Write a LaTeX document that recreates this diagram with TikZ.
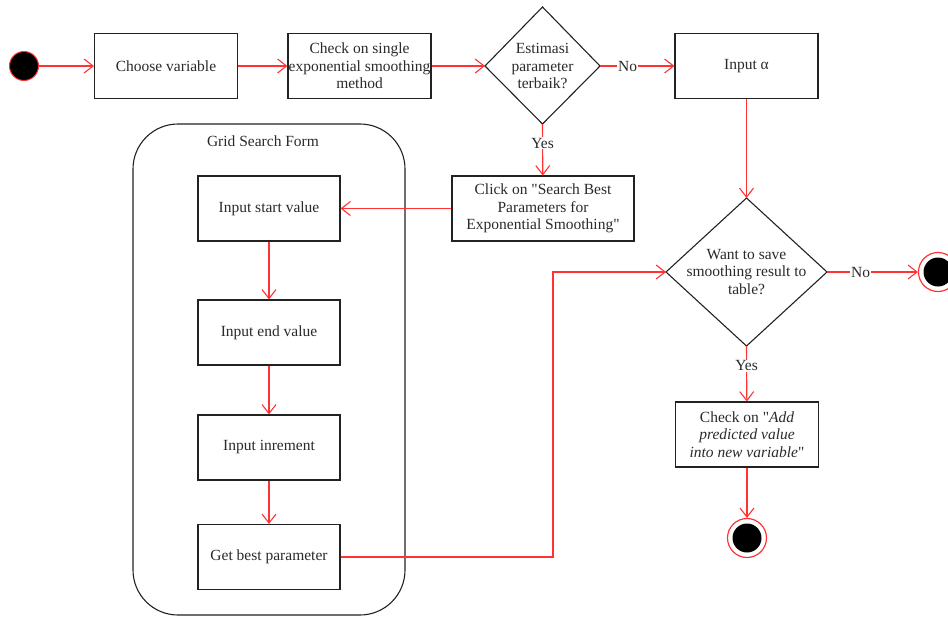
\documentclass[tikz,border=0pt]{standalone}
\usepackage{fontspec}
\setmainfont{Liberation Serif}
\newfontfamily\lser{Liberation Serif}
\usetikzlibrary{arrows.meta,shapes.geometric}
\definecolor{lred}{HTML}{FF3333}
\definecolor{txt}{HTML}{2A2A2A}
\definecolor{bd}{HTML}{222222}
\begin{document}
\begin{tikzpicture}[x=1pt,y=-1pt,
  every node/.style={font=\lser\fontsize{15.5}{18.5}\selectfont, text=txt},
  actbox/.style={draw=bd, line width=1.1pt, minimum width=143pt, minimum height=65pt, inner sep=0pt, align=center},
  flow/.style={draw=lred, line width=1.1pt, -{Straight Barb[length=9pt,width=14pt,line width=1.1pt]}},
  lab/.style={fill=white, inner sep=1pt},
  startc/.style={circle, fill=black, draw=lred, line width=1pt, minimum size=29pt, inner sep=0pt},
  endc/.style={circle, draw=lred, line width=1.2pt, minimum size=39pt, inner sep=0pt, path picture={\fill[black] (path picture bounding box.center) circle (14.5pt);}}
]
\useasboundingbox (0,0) rectangle (948,616);
% container
\draw[draw=bd, line width=1.1pt, rounded corners=45pt] (133,124) rectangle (405,615);
\node (gsf) at (263,141) {Grid Search Form};

\node[startc] (start) at (24,66) {};
\node[actbox] (choose) at (166,66) {Choose variable};
\node[actbox] (check) at (359.5,66) {Check on single\\[-1pt]exponential smoothing\\[-1pt]method};
\coordinate (d1l) at (485,66);
\coordinate (d1r) at (600,66);
\coordinate (d1t) at (542.5,7);
\coordinate (d1b) at (542.5,124);
\draw[draw=bd, line width=1.1pt] (d1l) -- (d1t) -- (d1r) -- (d1b) -- cycle;
\node[align=center] (d1) at (542.5,66) {Estimasi\\[-1pt]parameter\\[-1pt]terbaik?};
\node[actbox] (alpha) at (746.5,66) {Input α};

\coordinate (d2l) at (666,272);
\coordinate (d2r) at (827,272);
\coordinate (d2t) at (746.5,198);
\coordinate (d2b) at (746.5,346);
\draw[draw=bd, line width=1.1pt] (d2l) -- (d2t) -- (d2r) -- (d2b) -- cycle;
\node[align=center] (d2) at (746.5,272) {Want to save\\[-1pt]smoothing result to\\[-1pt]table?};

\node[endc] (endr) at (938,272) {};
\node[actbox] (addp) at (747,434.5) {Check on \textquotedbl\textit{Add}\\[-1pt]\textit{predicted value}\\[-1pt]\textit{into new variable}\textquotedbl};
\node[endc] (endb) at (747,538) {};

\node[actbox, minimum width=182pt] (click) at (543,208.5) {Click on \textquotedbl Search Best\\[-1pt]Parameters for\\[-1pt]Exponential Smoothing\textquotedbl};

\node[actbox, minimum width=142pt] (s1) at (269,208.5) {Input start value};
\node[actbox, minimum width=142pt] (s2) at (269,332.5) {Input end value};
\node[actbox, minimum width=142pt] (s3) at (269,447.5) {Input inrement};
\node[actbox, minimum width=142pt] (s4) at (269,557) {Get best parameter};

% connectors
\draw[flow] (start) -- (choose);
\draw[flow] (choose) -- (check);
\draw[flow] (check) -- (d1l);
\draw[flow] (d1r) -- node[lab, pos=0.37] {No} (alpha);
\draw[flow] (d1b) -- node[lab, pos=0.37] {Yes} (click);
\draw[flow] (click) -- (s1);
\draw[flow] (s1) -- (s2);
\draw[flow] (s2) -- (s3);
\draw[flow] (s3) -- (s4);
\draw[flow] (s4.east) -- (553,557) -- (553,272) -- (d2l);
\draw[flow] (alpha) -- (d2t);
\draw[flow] (d2r) -- node[lab, pos=0.37] {No} (endr);
\draw[flow] (d2b) -- node[lab, pos=0.36] {Yes} (addp);
\draw[flow] (addp) -- (endb);
\end{tikzpicture}
\end{document}
